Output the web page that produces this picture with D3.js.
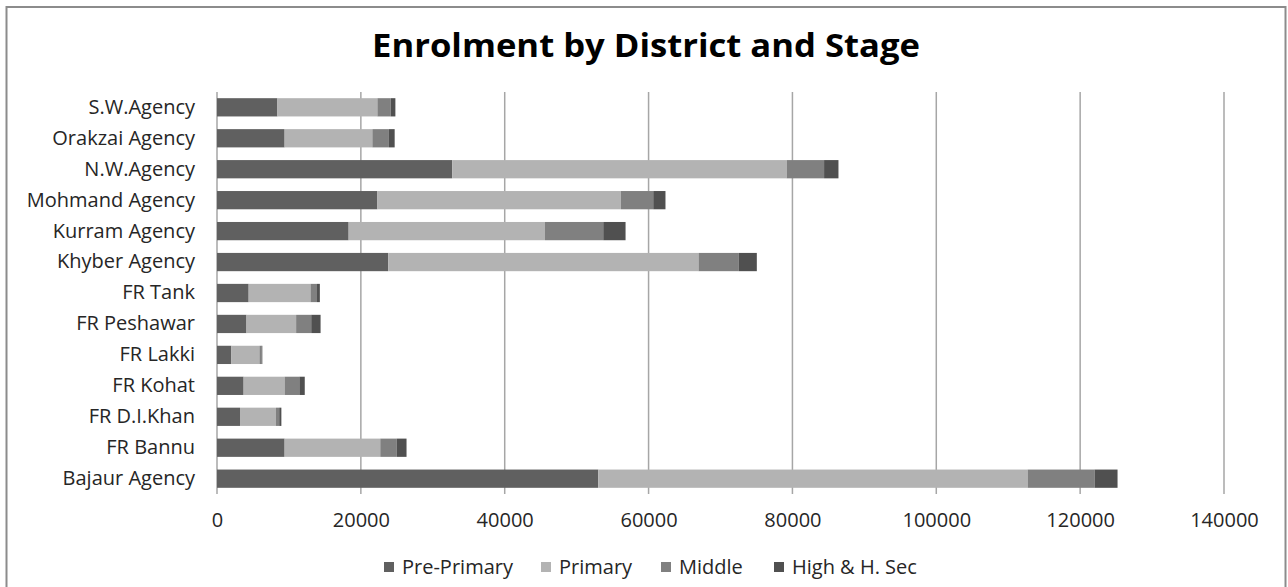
<!DOCTYPE html>
<html>
<head>
<meta charset="utf-8">
<script src="https://cdn.jsdelivr.net/npm/d3@7"></script>
<style>
  body { margin: 0; background: #fff; }
  svg { display: block; font-family: "Open Sans", sans-serif; }
</style>
</head>
<body>
<svg id="chart" width="1288" height="587"></svg>
<script>
// districts, top to bottom as drawn
const districts = ["S.W.Agency", "Orakzai Agency", "N.W.Agency", "Mohmand Agency", "Kurram Agency",
  "Khyber Agency", "FR Tank", "FR Peshawar", "FR Lakki", "FR Kohat", "FR D.I.Khan", "FR Bannu", "Bajaur Agency"]
const stages = ["Pre-Primary", "Primary", "Middle", "High & H. Sec"]

const prePrimary = [8400, 9400, 32700, 22300, 18300, 23800, 4400, 4100, 2000, 3700, 3200, 9400, 53000]
const primary    = [13900, 12200, 46500, 33850, 27300, 43150, 8600, 6900, 3900, 5700, 5000, 13300, 59700]
const middle     = [1850, 2300, 5200, 4500, 8100, 5600, 900, 2100, 300, 2050, 450, 2300, 9300]
const highSec    = [650, 800, 2000, 1700, 3100, 2500, 400, 1300, 100, 750, 300, 1350, 3200]

const xTicks = [0, 20000, 40000, 60000, 80000, 100000, 120000, 140000]
const colors = ["#606060", "#b3b3b3", "#808080", "#505050"]

let rows = districts.map((d, i) => ({
    district: d,
    "Pre-Primary": prePrimary[i],
    "Primary": primary[i],
    "Middle": middle[i],
    "High & H. Sec": highSec[i]
}))

let series = d3.stack().keys(stages)(rows)

let svg = d3.select("#chart")
let plotLeft = 217, plotTop = 92, plotW = 1007, plotH = 402

// outer frame
svg.append("rect")
    .attr("x", 6.5).attr("y", 7)
    .attr("width", 1279).attr("height", 600)
    .attr("fill", "none")
    .attr("stroke", "#8c8c8c")
    .attr("stroke-width", 2)

svg.append("text")
    .attr("x", 646).attr("y", 57)
    .attr("text-anchor", "middle")
    .attr("textLength", 548)
    .attr("lengthAdjust", "spacingAndGlyphs")
    .style("font-size", "32px")
    .style("font-weight", "bold")
    .attr("fill", "#000")
    .text("Enrolment by District and Stage")

let x = d3.scaleLinear().domain([0, 140000]).range([plotLeft, plotLeft + plotW])
let y = d3.scaleBand().domain(districts).range([plotTop, plotTop + plotH]).paddingInner(0.41).paddingOuter(0.2)

// gridlines
svg.append("g")
    .selectAll("line")
    .data(xTicks)
    .enter()
    .append("line")
    .attr("x1", d => x(d)).attr("x2", d => x(d))
    .attr("y1", plotTop).attr("y2", plotTop + plotH)
    .attr("stroke", "#a6a6a6")
    .attr("stroke-width", 1.5)

svg.append("g")
    .selectAll("g")
    .data(series).enter()
    .append("g")
    .attr("fill", (d, i) => colors[i])
    .selectAll("rect")
    .data(d => d)
    .enter()
    .append("rect")
    .attr("x", d => x(d[0]))
    .attr("width", d => x(d[1]) - x(d[0]))
    .attr("y", d => y(d.data.district))
    .attr("height", y.bandwidth())

// x axis labels
let xAxis = svg.append("g")
    .attr("transform", "translate(0," + (plotTop + plotH) + ")")
    .call(d3.axisBottom(x).tickValues(xTicks).tickFormat(d3.format("d")).tickSize(0).tickPadding(19))
xAxis.select(".domain").remove()
xAxis.selectAll("text").style("font-size", "20px").attr("fill", "#262626").style("font-family", "'Open Sans', sans-serif")

// y axis labels
let yAxis = svg.append("g")
    .attr("transform", "translate(" + plotLeft + ",0)")
    .call(d3.axisLeft(y).tickSize(0).tickPadding(22))
yAxis.select(".domain").remove()
yAxis.selectAll("text").style("font-size", "20px").attr("fill", "#262626").style("font-family", "'Open Sans', sans-serif")

// legend
let legendX = [384, 541, 661, 774]
let legend = svg.append("g")
    .selectAll("g")
    .data(stages).enter()
    .append("g")
    .attr("transform", (d, i) => "translate(" + legendX[i] + ",562)")
legend.append("rect")
    .attr("width", 10).attr("height", 10)
    .attr("fill", (d, i) => colors[i])
legend.append("text")
    .attr("x", 18).attr("y", 12)
    .style("font-size", "20px")
    .attr("fill", "#262626")
    .text(d => d)
</script>
</body>
</html>
